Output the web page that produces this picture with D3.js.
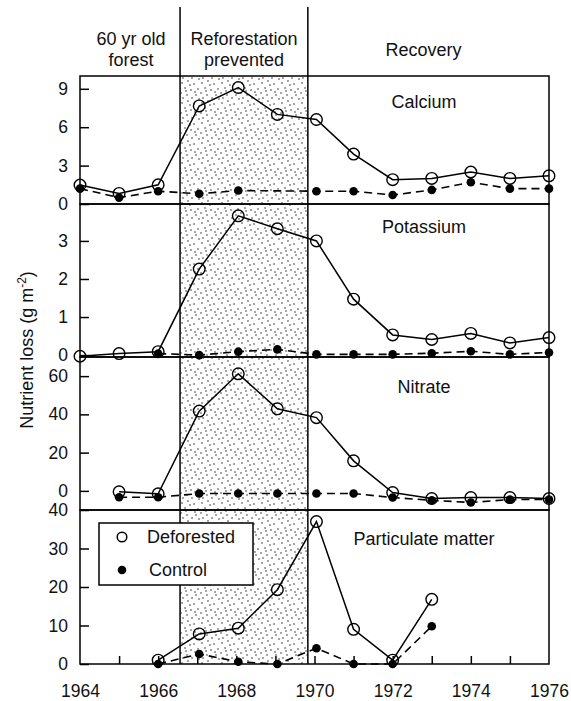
<!DOCTYPE html>
<html>
<head>
<meta charset="utf-8">
<script src="https://cdn.jsdelivr.net/npm/d3@7"></script>
<style>
  html, body { margin: 0; padding: 0; background: #fff; }
  svg { display: block; font-family: "Liberation Sans", Arial, Helvetica, sans-serif; }
</style>
</head>
<body>
<svg id="chart" width="571" height="701"></svg>
<script>
// ---------- DATA ----------
const years = [1964, 1965, 1966, 1967.05, 1968.05, 1969.05, 1970.05, 1971, 1972, 1973, 1974, 1975, 1976];
const xTickLabels = [1964, 1966, 1968, 1970, 1972, 1974, 1976];
const periods = ["60 yr old|forest", "Reforestation|prevented", "Recovery"];
const treatmentStart = 1966.56;
const treatmentEnd = 1969.83;
const seriesNames = ["Deforested", "Control"];
const panelNames = ["Calcium", "Potassium", "Nitrate", "Particulate matter"];

const calciumDef = [1.48, 0.83, 1.5, 7.66, 9.1, 7.0, 6.6, 3.9, 1.9, 2.0, 2.5, 2.0, 2.2];
const calciumCtl = [1.2, 0.5, 1.0, 0.8, 1.05, null, 1.0, 1.0, 0.7, 1.1, 1.7, 1.2, 1.2];
const potassiumDef = [-0.03, 0.04, 0.09, 2.26, 3.66, 3.32, 3.0, 1.47, 0.53, 0.41, 0.57, 0.32, 0.46];
const potassiumCtl = [null, null, 0.04, 0.0, 0.09, 0.15, 0.02, 0.02, 0.02, 0.05, 0.1, 0.02, 0.07];
const nitrateDef = [null, -0.5, -1.5, 41.7, 61.2, 42.9, 38.3, 15.7, -0.9, -4.0, -3.5, -3.5, -4.0];
const nitrateCtl = [null, -3.3, -3.3, -1.4, -1.4, -1.4, -1.4, -1.4, -3.5, -4.9, -6.1, -4.5, -4.5];
const particulateDef = [null, null, 1.0, 7.8, 9.3, 19.3, 37.0, 9.0, 1.0, 16.8, null, null, null];
const particulateCtl = [null, null, 0.0, 2.6, 0.6, 0.0, 4.1, 0.0, 0.0, 9.8, null, null, null];

const calciumTicks = [0, 3, 6, 9];
const potassiumTicks = [0, 1, 2, 3];
const nitrateTicks = [0, 20, 40, 60];
const particulateTicks = [0, 10, 20, 30, 40];

// ---------- LAYOUT ----------
const svg = d3.select("#chart");
const left = 80, right = 549;
const x = d3.scaleLinear().domain([1964, 1976]).range([left, right]);

const panels = [
  { name: panelNames[0], top: 76,  bottom: 204, domain: [0, 10],       ticks: calciumTicks,     def: calciumDef,     ctl: calciumCtl,     labelY: 108 },
  { name: panelNames[1], top: 204, bottom: 357, domain: [-0.05, 3.97], ticks: potassiumTicks,   def: potassiumDef,   ctl: potassiumCtl,   labelY: 233 },
  { name: panelNames[2], top: 357, bottom: 510, domain: [-10, 70],     ticks: nitrateTicks,     def: nitrateDef,     ctl: nitrateCtl,     labelY: 393 },
  { name: panelNames[3], top: 510, bottom: 664, domain: [0, 40],       ticks: particulateTicks, def: particulateDef, ctl: particulateCtl, labelY: 545 }
];
const plotTop = 76, plotBottom = 664;

// stipple pattern
const defs = svg.append("defs");
const pat = defs.append("pattern").attr("id", "stipple")
  .attr("patternUnits", "userSpaceOnUse").attr("width", 20).attr("height", 20);
pat.append("rect").attr("width", 20).attr("height", 20).attr("fill", "#fff");
const dotPos = [[2,3],[8,1],[14,4],[18,9],[5,8],[11,10],[16,15],[1,13],[7,15],[12,18],[3,18],[19,19],[10,5],[15,12],[6,11]];
pat.selectAll("circle").data(dotPos).join("circle")
  .attr("cx", d => d[0]).attr("cy", d => d[1]).attr("r", 0.8).attr("fill", "#333");

// shaded treatment period
svg.append("rect")
  .attr("x", x(treatmentStart)).attr("y", plotTop)
  .attr("width", x(treatmentEnd) - x(treatmentStart))
  .attr("height", plotBottom - plotTop)
  .attr("fill", "url(#stipple)");

// header and period lines
[treatmentStart, treatmentEnd].forEach(t => {
  svg.append("line").attr("x1", x(t)).attr("x2", x(t)).attr("y1", 7).attr("y2", plotBottom)
    .attr("stroke", "#000").attr("stroke-width", 1.5);
});

const headerCenters = [
  (x(1964) + x(treatmentStart)) / 2 + 1,
  (x(treatmentStart) + x(treatmentEnd)) / 2,
  (x(treatmentEnd) + x(1976)) / 2 - 5
];
periods.forEach((p, i) => {
  const lines = p.split("|");
  const t = svg.append("text").attr("text-anchor", "middle").attr("font-size", 18).attr("fill", "#111");
  if (lines.length === 2) {
    t.append("tspan").attr("x", headerCenters[i]).attr("y", 45).text(lines[0]);
    t.append("tspan").attr("x", headerCenters[i]).attr("y", 66).text(lines[1]);
  } else {
    t.attr("x", headerCenters[i]).attr("y", 56).text(lines[0]);
  }
});

// panels
panels.forEach((p, pi) => {
  const y = d3.scaleLinear().domain(p.domain).range([p.bottom, p.top]);
  const g = svg.append("g");

  // frame
  g.append("rect").attr("x", left).attr("y", p.top).attr("width", right - left)
    .attr("height", p.bottom - p.top).attr("fill", "none").attr("stroke", "#000").attr("stroke-width", 1.5);

  // left axis
  const ax = g.append("g").attr("transform", `translate(${left},0)`)
    .call(d3.axisLeft(y).tickValues(p.ticks).tickSize(-9).tickPadding(12).tickFormat(d3.format("d")));
  ax.select(".domain").remove();
  ax.selectAll("line").attr("stroke", "#000").attr("stroke-width", 1.5);
  ax.selectAll("text").attr("font-size", 17.5).attr("fill", "#111")
    .attr("font-family", "'Liberation Sans', Arial, sans-serif");

  // panel label
  g.append("text").attr("x", 424).attr("y", p.labelY).attr("text-anchor", "middle")
    .attr("font-size", 18).attr("fill", "#111").text(p.name);

  const pts = (arr) => years.map((yr, i) => ({ x: yr, v: arr[i] })).filter(d => d.v !== null);
  const line = d3.line().x(d => x(d.x)).y(d => y(d.v));

  const ctl = pts(p.ctl), def = pts(p.def);
  g.append("path").datum(ctl).attr("d", line).attr("fill", "none")
    .attr("stroke", "#000").attr("stroke-width", 1.6).attr("stroke-dasharray", "8,5");
  g.append("path").datum(def).attr("d", line).attr("fill", "none")
    .attr("stroke", "#000").attr("stroke-width", 1.5);
  g.selectAll(".def").data(def).join("circle").attr("class", "def")
    .attr("cx", d => x(d.x)).attr("cy", d => y(d.v)).attr("r", 5.8)
    .attr("fill", "none").attr("stroke", "#000").attr("stroke-width", 1.4);
  g.selectAll(".ctl").data(ctl).join("circle").attr("class", "ctl")
    .attr("cx", d => x(d.x)).attr("cy", d => y(d.v)).attr("r", 4.3).attr("fill", "#000");

  // bottom axis on last panel
  if (pi === panels.length - 1) {
    const bx = svg.append("g").attr("transform", `translate(0,${p.bottom})`)
      .call(d3.axisBottom(x).tickValues(d3.range(1965, 1976)).tickSize(-8).tickFormat(""));
    bx.select(".domain").remove();
    bx.selectAll("line").attr("stroke", "#000").attr("stroke-width", 1.5);
    const bl = svg.append("g").attr("transform", `translate(0,${p.bottom})`)
      .call(d3.axisBottom(x).tickValues(xTickLabels).tickSize(0).tickPadding(21).tickFormat(d3.format("d")));
    bl.select(".domain").remove();
    bl.selectAll("text").attr("font-size", 17.5).attr("fill", "#111")
      .attr("font-family", "'Liberation Sans', Arial, sans-serif");
  }
});

// y-axis title
const yt = svg.append("text").attr("transform", "translate(33,350) rotate(-90)")
  .attr("text-anchor", "middle").attr("font-size", 18).attr("fill", "#111");
yt.append("tspan").text("Nutrient loss (g m");
yt.append("tspan").attr("font-size", 12).attr("dy", -7).text("-2");
yt.append("tspan").attr("dy", 7).text(")");

// legend
const lg = svg.append("g");
lg.append("rect").attr("x", 99).attr("y", 523).attr("width", 154).attr("height", 62)
  .attr("fill", "#fff").attr("stroke", "#000").attr("stroke-width", 1.5);
lg.append("circle").attr("cx", 122).attr("cy", 537).attr("r", 4.8)
  .attr("fill", "none").attr("stroke", "#000").attr("stroke-width", 1.5);
lg.append("text").attr("x", 147).attr("y", 543).attr("font-size", 18).attr("fill", "#111").text(seriesNames[0]);
lg.append("circle").attr("cx", 122).attr("cy", 570).attr("r", 4.3).attr("fill", "#000");
lg.append("text").attr("x", 149).attr("y", 576).attr("font-size", 18).attr("fill", "#111").text(seriesNames[1]);
</script>
</body>
</html>
